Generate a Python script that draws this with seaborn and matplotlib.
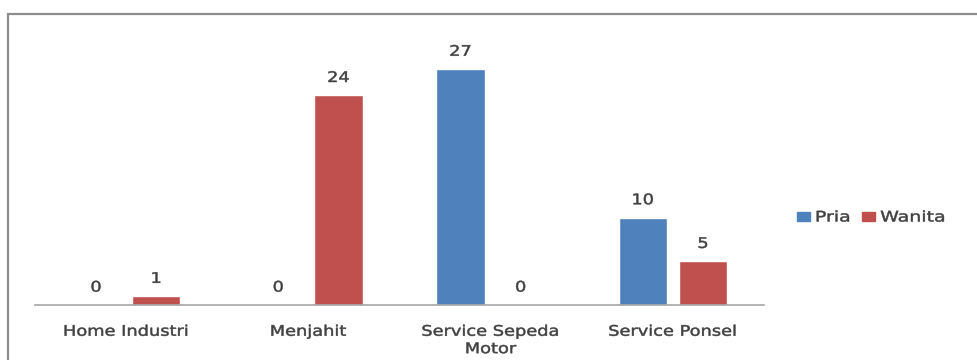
import matplotlib
matplotlib.use("Agg")
import matplotlib.pyplot as plt
import matplotlib.patches as mpatches
from matplotlib.patheffects import AbstractPathEffect
from matplotlib.transforms import Affine2D
import seaborn as sns
import pandas as pd

categories = ["Home Industri", "Menjahit", "Service Sepeda\nMotor", "Service Ponsel"]
series_names = ["Pria", "Wanita"]
pria = [0, 0, 27, 10]
wanita = [1, 24, 0, 5]
colors = ["#4F81BD", "#C0504D"]

df = pd.DataFrame({
    "kategori": categories * 2,
    "jenis": [series_names[0]] * len(categories) + [series_names[1]] * len(categories),
    "nilai": pria + wanita,
})


class Stretch(AbstractPathEffect):
    """Widen glyphs horizontally and thicken them slightly (reference text is stretched)."""
    def __init__(self, sx, anchor="center", stroke=0.35):
        super().__init__()
        self.sx = sx
        self.anchor = anchor
        self.stroke = stroke

    def draw_path(self, renderer, gc, tpath, affine, rgbFace=None):
        ext = tpath.get_extents()
        cx = (ext.x0 + ext.x1) / 2 if self.anchor == "center" else ext.x0
        t = Affine2D().translate(-cx, 0).scale(self.sx, 1).translate(cx, 0) + affine
        renderer.draw_path(gc, tpath, t, rgbFace)
        if self.stroke and rgbFace is not None:
            gc0 = renderer.new_gc()
            gc0.copy_properties(gc)
            gc0.set_foreground(rgbFace)
            gc0.set_linewidth(self.stroke)
            renderer.draw_path(gc0, tpath, t, None)
            gc0.restore()


sns.set_theme(style="white")
plt.rcParams["font.family"] = ["DejaVu Sans"]

fig = plt.figure(figsize=(9.77, 3.6), dpi=100)
ax = fig.add_axes([35 / 977, 1 - 305 / 360, (764 - 35) / 977, (305 - 43) / 360])

sns.barplot(data=df, x="kategori", y="nilai", hue="jenis", order=categories,
            hue_order=series_names, palette=colors, width=0.66, gap=0.2,
            saturation=1, ax=ax, legend=True)

for cont in ax.containers:
    labels = ax.bar_label(cont, padding=7.5, fontsize=10.5, color="#404040")
    for t in labels:
        t.set_path_effects([Stretch(1.22)])

ax.set_ylim(0, 30)
ax.set_xlim(-0.5, 3.5)
ax.set_xlabel("")
ax.set_ylabel("")
ax.set_yticks([])
for s in ["top", "right", "left"]:
    ax.spines[s].set_visible(False)
ax.spines["bottom"].set_color("#A6A6A6")
ax.spines["bottom"].set_linewidth(1.2)
ax.tick_params(axis="x", length=0, pad=13.5, labelsize=10.5, labelcolor="#404040")
for lab in ax.get_xticklabels():
    lab.set_linespacing(1.2)
    lab.set_verticalalignment("top")
    lab.set_path_effects([Stretch(1.22)])

handles = [mpatches.Patch(color=c, label=n) for c, n in zip(colors, series_names)]
ax.get_legend().remove()
leg = fig.legend(handles=handles, loc="center left", bbox_to_anchor=(784 / 977, 1 - 217 / 360),
                 ncol=2, frameon=False, fontsize=10.5, handlelength=0.9, handleheight=0.55,
                 handletextpad=0.35, columnspacing=1.3, labelcolor="#404040")
for t in leg.get_texts():
    t.set_path_effects([Stretch(1.3, anchor="left")])

frame = mpatches.Rectangle((8 / 977, -0.2), 1.2, (1 - 14 / 360) + 0.2,
                           transform=fig.transFigure, fill=False,
                           edgecolor="#8C8C8C", linewidth=1.6, clip_on=False)
fig.add_artist(frame)

fig.savefig("out.png", dpi=100)
